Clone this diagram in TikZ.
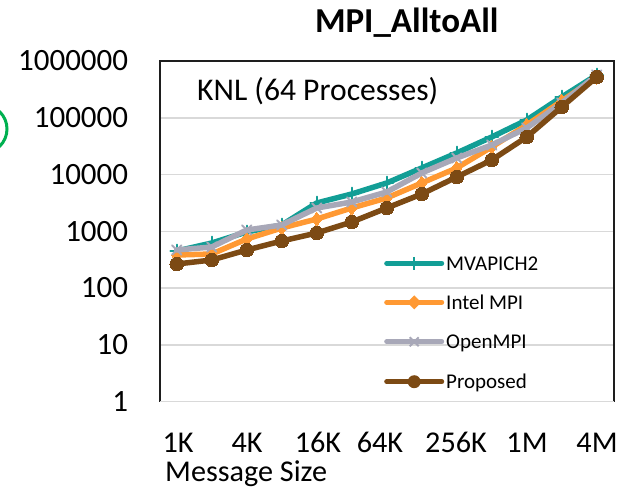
\documentclass[tikz,border=0pt]{standalone}
\usepackage{fontspec}
\setmainfont{Carlito}
\usetikzlibrary{plotmarks}
\definecolor{mvc}{RGB}{18,158,150}
\definecolor{inc}{RGB}{255,153,51}
\definecolor{opc}{RGB}{168,168,184}
\definecolor{prc}{RGB}{124,74,20}
\definecolor{gridc}{RGB}{217,217,217}
\definecolor{ringc}{RGB}{0,176,80}
\definecolor{framec}{RGB}{30,30,30}
\tikzset{
  axlab/.style={font=\fontsize{31}{31}\selectfont, inner sep=0pt},
  xlab/.style={font=\fontsize{30.2}{30.2}\selectfont, inner sep=0pt},
  leglab/.style={font=\fontsize{21}{21}\selectfont, inner sep=0pt, anchor=base west},
  series/.style={line width=5.5pt, line join=round, line cap=round},
  legline/.style={line width=5pt, line cap=round},
}
\begin{document}
\begin{tikzpicture}[x=1pt,y=-1pt]
\useasboundingbox (0,0) rectangle (620,488);
\clip (0,0) rectangle (620,488);
% partial green ring at left edge
\draw[ringc, line width=3pt] (-17,129) circle[radius=24];
% title
\node[inner sep=0pt, font=\fontsize{35}{35}\selectfont\bfseries, anchor=base] (title) at (406.7,32.3) {MPI\_AlltoAll};
% gridlines
\foreach \k in {1,...,5}
  \draw[gridc, line width=1.5pt] (160,{401.7-56.78*\k}) -- (614,{401.7-56.78*\k});
% y labels
\foreach \k/\t in {0/1,1/10,2/100,3/1000,4/10000,5/100000,6/1000000}
  \node[axlab, anchor=base east] (y\k) at (128.3,{401.7-56.78*\k+9.8}) {\t};
% frame
\draw[framec, line width=2pt] (160,401.7) -- (160,61) -- (614,61) -- (614,401.7);
\draw[gridc, line width=1.5pt] (160,401.7) -- (614,401.7);
% x labels
\foreach \xx/\t [count=\i] in {178/1K,247/4K,318/16K,380/64K,456/256K,527/1M,597/4M}
  \node[xlab, anchor=base] (x\i) at (\xx,452.5) {\t};
\node[xlab, anchor=base west] (xtitle) at (165,481) {Message Size};
% annotation
\node[axlab, font=\fontsize{31.6}{31.6}\selectfont, anchor=base west] (knl) at (197,100) {KNL (64 Processes)};
% series
\draw[series, mvc, mark=+, mark size=6.5pt, mark options={line width=1.6pt}]
  plot coordinates {(176.7,251) (211.7,243) (246.7,232) (281.7,225) (316.7,203) (351.7,194) (386.7,183) (421.7,168) (456.7,153) (491.7,137) (526.7,120) (561.7,97) (596.7,75)};
\draw[series, inc, mark=diamond*, mark size=7pt, mark options={line width=0pt}]
  plot coordinates {(176.7,255) (211.7,254) (246.7,239) (281.7,228) (316.7,219) (351.7,208) (386.7,198) (421.7,183) (456.7,168) (491.7,147) (526.7,125) (561.7,101) (596.7,77)};
\draw[series, opc, mark=x, mark size=6.5pt, mark options={line width=2pt}]
  plot coordinates {(176.7,250) (211.7,247) (246.7,230) (281.7,225) (316.7,208) (351.7,202) (386.7,192) (421.7,173) (456.7,158) (491.7,145) (526.7,128) (561.7,103) (596.7,75)};
\draw[series, prc, mark=*, mark size=6.8pt, mark options={line width=0pt}]
  plot coordinates {(176.7,264) (211.7,260) (246.7,250) (281.7,241) (316.7,233) (351.7,222) (386.7,208) (421.7,194) (456.7,177) (491.7,160) (526.7,137) (561.7,107) (596.7,77)};
% legend
\coordinate (l1a) at (386.7,263.3); \coordinate (l1b) at (441.7,263.3);
\coordinate (l2a) at (386.7,302.3); \coordinate (l2b) at (441.7,302.3);
\coordinate (l3a) at (386.7,341.7); \coordinate (l3b) at (441.7,341.7);
\coordinate (l4a) at (386.7,381.7); \coordinate (l4b) at (441.7,381.7);
\draw[legline, mvc] (l1a) -- (l1b);
\draw[mvc, line width=1.6pt] (414.2,256.8) -- (414.2,269.8);
\draw[legline, inc] (l2a) -- (l2b);
\fill[inc] (414.2,295.3) -- (421.2,302.3) -- (414.2,309.3) -- (407.2,302.3) -- cycle;
\draw[legline, opc] (l3a) -- (l3b);
\draw[opc, line width=2pt] (409.7,337.2) -- (418.7,346.2) (409.7,346.2) -- (418.7,337.2);
\draw[legline, prc] (l4a) -- (l4b);
\fill[prc] (414.2,381.7) circle[radius=6.5];
\node[leglab] (lg1) at (446,270) {MVAPICH2};
\node[leglab] (lg2) at (446,309) {Intel MPI};
\node[leglab] (lg3) at (446,348.4) {OpenMPI};
\node[leglab] (lg4) at (446,388.4) {Proposed};
\end{tikzpicture}
\end{document}
